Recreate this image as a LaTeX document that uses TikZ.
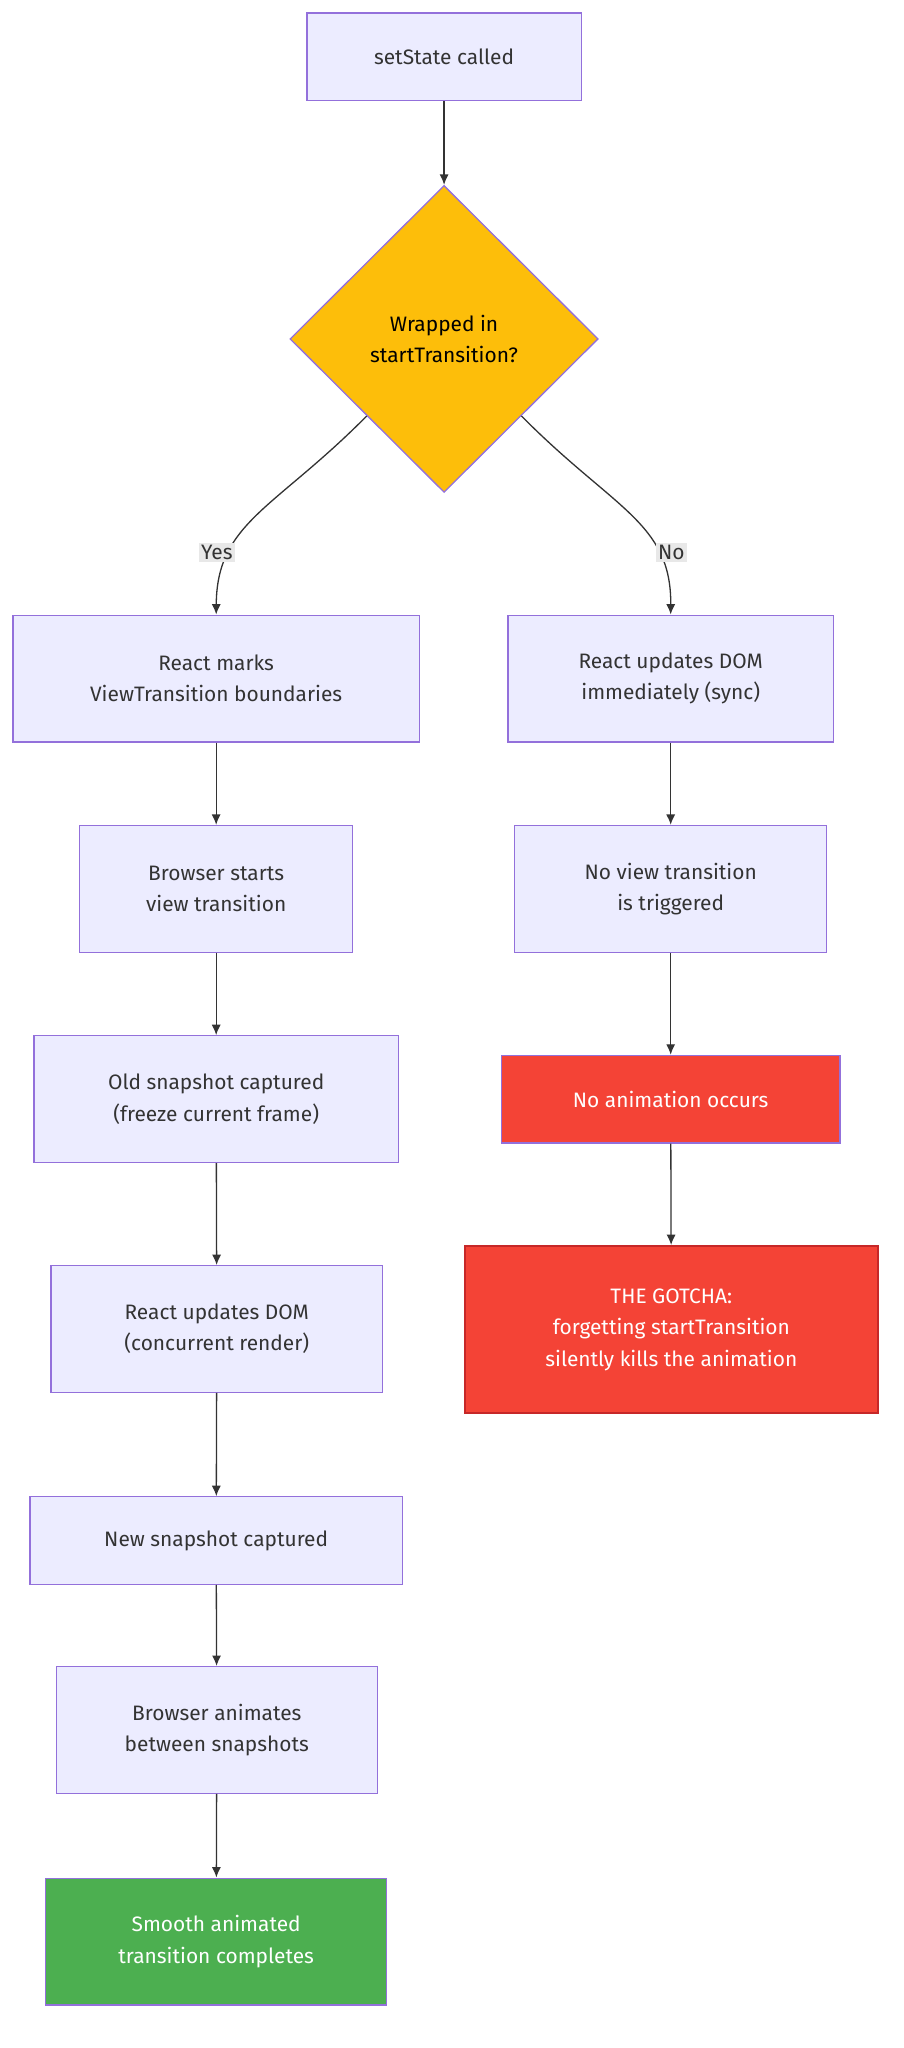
\documentclass[tikz,border=0pt]{standalone}
\usepackage{fontspec}
\setmainfont{Fira Sans}
\usetikzlibrary{shapes.geometric,arrows.meta}
\definecolor{nfill}{HTML}{ECECFF}
\definecolor{nline}{HTML}{9370DB}
\definecolor{dfill}{HTML}{FDBE0A}
\definecolor{rfill}{HTML}{F44336}
\definecolor{rline}{HTML}{C62828}
\definecolor{gfill}{HTML}{4CAF50}
\definecolor{eline}{HTML}{333333}
\begin{document}
\begin{tikzpicture}[x=1pt,y=-1pt,
  box/.style={draw=nline,fill=nfill,line width=1pt,align=center,font=\fontsize{16}{24}\selectfont,text=eline,inner sep=0pt},
  red/.style={box,fill=rfill,text=white},
  green/.style={box,fill=gfill,text=white},
  arr/.style={draw=eline,line width=1pt,-{Latex[length=8pt,width=7pt]}},
  lbl/.style={fill=black!9,font=\fontsize{16}{20}\selectfont,text=eline,inner sep=2pt}]
\useasboundingbox[fill=white] (0,0) rectangle (692,1568);
\node[box,minimum width=210,minimum height=67] (a) at (340,43.5) {setState called};
\node[diamond,draw=nline,fill=dfill,line width=1pt,minimum width=236,minimum height=235,inner sep=0pt,align=center,font=\fontsize{16}{24}\selectfont] (d) at (340,259.5) {Wrapped in\\startTransition?};
\node[box,minimum width=311,minimum height=97] (rm) at (165.5,519.5) {React marks\\ViewTransition boundaries};
\node[box,minimum width=249,minimum height=97] (ru) at (513.5,519.5) {React updates DOM\\immediately (sync)};
\node[box,minimum width=209,minimum height=97] (bs) at (165.5,680.5) {Browser starts\\view transition};
\node[box,minimum width=239,minimum height=97] (nv) at (513.5,680.5) {No view transition\\is triggered};
\node[box,minimum width=279,minimum height=97] (os) at (165.5,841.5) {Old snapshot captured\\(freeze current frame)};
\node[red,minimum width=259,minimum height=67] (na) at (513.5,841.5) {No animation occurs};
\node[red,draw=rline,line width=1.5pt,minimum width=316,minimum height=128] (g) at (514,1018) {THE GOTCHA:\\forgetting startTransition\\silently kills the animation};
\node[box,minimum width=254,minimum height=97] (rud) at (166,1017.5) {React updates DOM\\(concurrent render)};
\node[box,minimum width=285,minimum height=67] (ns) at (165.5,1179.5) {New snapshot captured};
\node[box,minimum width=246,minimum height=97] (ba) at (166,1324.5) {Browser animates\\between snapshots};
\node[green,minimum width=261,minimum height=97] (sm) at (165.5,1486.5) {Smooth animated\\transition completes};
\draw[arr] (a) -- (d.north);
\draw[arr] (d.south west) .. controls (210,390) and (166,400) .. (rm.north);
\draw[arr] (d.south east) .. controls (470,390) and (514,400) .. (ru.north);
\node[lbl] (ly) at (166,423) {Yes};
\node[lbl] (ln) at (514,423) {No};
\draw[arr] (rm) -- (bs);
\draw[arr] (bs) -- (os);
\draw[arr] (os) -- (rud);
\draw[arr] (rud) -- (ns);
\draw[arr] (ns) -- (ba);
\draw[arr] (ba) -- (sm);
\draw[arr] (ru) -- (nv);
\draw[arr] (nv) -- (na);
\draw[arr] (na) -- (g);
\end{tikzpicture}
\end{document}
